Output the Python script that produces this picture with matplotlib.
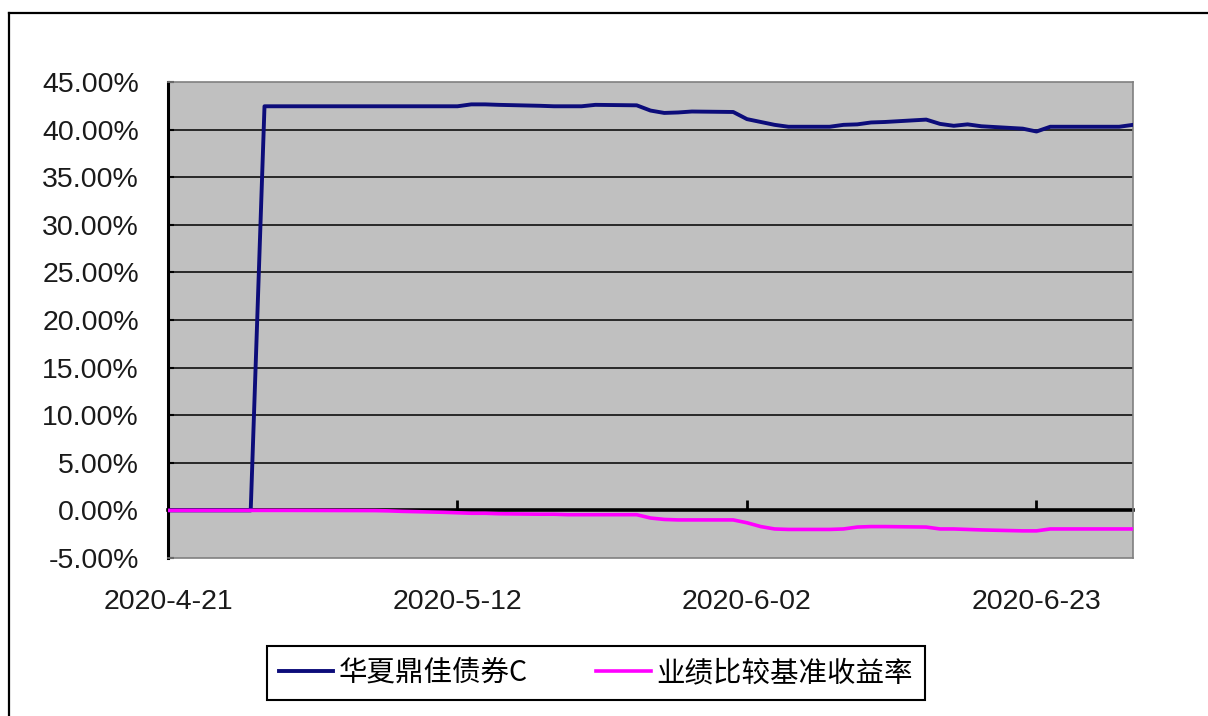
"""Fund return vs benchmark return line chart (2020-4-21 to 2020-6-30)."""

import matplotlib
matplotlib.use("Agg")
import matplotlib.pyplot as plt
from matplotlib.lines import Line2D
from matplotlib.ticker import FuncFormatter
import pandas as pd

plt.rcParams["axes.unicode_minus"] = False

# Trading days
dates = [
    "2020-04-21", "2020-04-22", "2020-04-23", "2020-04-24", "2020-04-27",
    "2020-04-28", "2020-04-29", "2020-04-30", "2020-05-06", "2020-05-07",
    "2020-05-08", "2020-05-11", "2020-05-12", "2020-05-13", "2020-05-14",
    "2020-05-15", "2020-05-18", "2020-05-19", "2020-05-20", "2020-05-21",
    "2020-05-22", "2020-05-25", "2020-05-26", "2020-05-27", "2020-05-28",
    "2020-05-29", "2020-06-01", "2020-06-02", "2020-06-03", "2020-06-04",
    "2020-06-05", "2020-06-08", "2020-06-09", "2020-06-10", "2020-06-11",
    "2020-06-12", "2020-06-15", "2020-06-16", "2020-06-17", "2020-06-18",
    "2020-06-19", "2020-06-22", "2020-06-23", "2020-06-24", "2020-06-29",
    "2020-06-30",
]

# Cumulative returns, in percent
fund_returns = [
    0, 0, 0, 0, 0,
    42.45, 42.45, 42.45, 42.45, 42.45,
    42.45, 42.45, 42.45, 42.65, 42.65,
    42.6, 42.5, 42.45, 42.45, 42.45,
    42.6, 42.55, 42.0, 41.75, 41.8,
    41.9, 41.85, 41.1, 40.8, 40.5,
    40.3, 40.3, 40.5, 40.55, 40.75,
    40.8, 41.05, 40.6, 40.4, 40.55,
    40.35, 40.1, 39.8, 40.3, 40.3,
    40.5,
]

benchmark_returns = [
    0, 0, 0, 0, 0,
    0, 0, 0, -0.02, -0.05,
    -0.1, -0.2, -0.25, -0.3, -0.3,
    -0.35, -0.4, -0.4, -0.45, -0.45,
    -0.45, -0.45, -0.8, -0.95, -1.0,
    -1.0, -1.0, -1.3, -1.7, -1.95,
    -2.0, -2.0, -1.95, -1.75, -1.7,
    -1.7, -1.75, -1.95, -1.95, -2.0,
    -2.05, -2.15, -2.15, -1.95, -1.95,
    -1.95,
]

series_labels = ["华夏鼎佳债券C", "业绩比较基准收益率"]
tick_dates = ["2020-04-21", "2020-05-12", "2020-06-02", "2020-06-23"]
tick_labels = ["2020-4-21", "2020-5-12", "2020-6-02", "2020-6-23"]
y_ticks = [-5, 0, 5, 10, 15, 20, 25, 30, 35, 40, 45]

x = pd.to_datetime(dates)
xt = pd.to_datetime(tick_dates)

fig = plt.figure(figsize=(12.08, 7.16), dpi=100)
fig.patch.set_facecolor("white")
ax = fig.add_axes([168 / 1208, 158 / 716, 965 / 1208, 476 / 716])
ax.set_facecolor("#c0c0c0")

# Horizontal grid lines (black)
for yv in y_ticks[2:-1]:
    ax.axhline(yv, color="black", linewidth=1.1, zorder=1)

line1, = ax.plot(x, fund_returns, color="#0c0c7a", linewidth=2.8, zorder=3)
line2, = ax.plot(x, benchmark_returns, color="#ff00ff", linewidth=2.6, zorder=3)

ax.set_xlim(pd.Timestamp("2020-04-21"), pd.Timestamp("2020-06-30"))
ax.set_ylim(-5, 45)

ax.set_yticks(y_ticks)
ax.yaxis.set_major_formatter(FuncFormatter(lambda v, p: f"{v:.2f}%"))
ax.set_xticks(xt)
ax.set_xticklabels(tick_labels)

for lab in ax.get_xticklabels() + ax.get_yticklabels():
    lab.set_fontfamily("Liberation Sans")
    lab.set_fontsize(20.5)
    lab.set_color("#1a1a1a")

ax.tick_params(axis="x", length=0, pad=22)
ax.tick_params(axis="y", direction="in", length=4, width=1.5, pad=21)

for side in ["top", "right", "bottom"]:
    ax.spines[side].set_color("#808080")
    ax.spines[side].set_linewidth(1.2)
ax.spines["left"].set_color("black")
ax.spines["left"].set_linewidth(2.2)

# Category axis drawn at 0% with upward tick marks
sec = ax.secondary_xaxis(0.1)
sec.set_ticks(xt)
sec.tick_params(direction="in", length=7, width=2, labelbottom=False)
sec.spines["bottom"].set_color("black")
sec.spines["bottom"].set_linewidth(2.6)

leg = fig.legend(
    [line1, line2],
    series_labels,
    loc="center",
    bbox_to_anchor=(596 / 1208, 1 - 673 / 716),
    ncol=2,
    frameon=True,
    fancybox=False,
    edgecolor="black",
    framealpha=1,
    handlelength=1.9,
    handletextpad=0.2,
    columnspacing=2.4,
    borderpad=0.42,
    borderaxespad=0,
    prop={"family": ["Noto Sans CJK SC", "DejaVu Sans"], "size": 20.5},
)
leg.get_frame().set_linewidth(1.5)

# Outer chart border (top and left edges visible)
fig.add_artist(Line2D([9 / 1208, 9 / 1208], [0, 1 - 13 / 716], color="black",
                      linewidth=1.6, transform=fig.transFigure))
fig.add_artist(Line2D([9 / 1208, 1], [1 - 13 / 716, 1 - 13 / 716], color="black",
                      linewidth=1.6, transform=fig.transFigure))

fig.savefig("out.png", dpi=100)
